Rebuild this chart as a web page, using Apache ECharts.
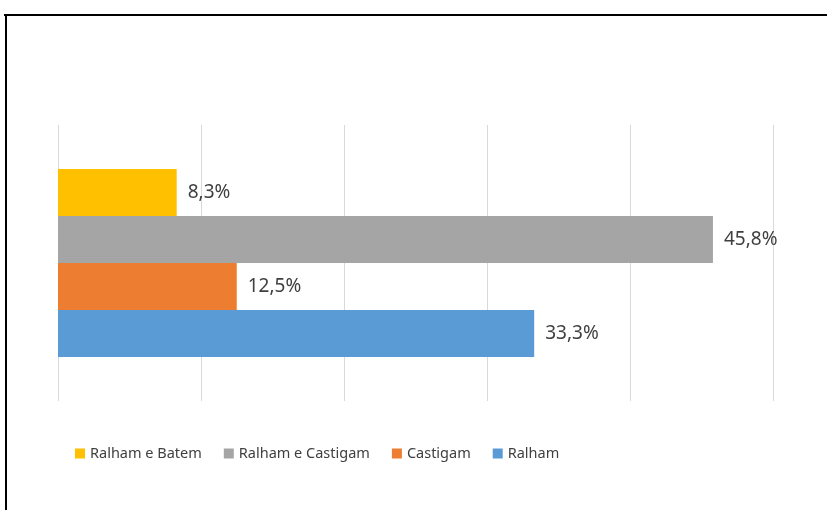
<!DOCTYPE html>
<html>
<head>
<meta charset="utf-8">
<script src="https://cdn.jsdelivr.net/npm/echarts@6/dist/echarts.min.js"></script>
<style>
html,body{margin:0;padding:0;background:#fff;}
#chart{width:827px;height:510px;}
</style>
</head>
<body>
<div id="chart"></div>
<script>
var categories = ['Total'];
var seriesNames = ['Ralham e Batem', 'Ralham e Castigam', 'Castigam', 'Ralham'];
var seriesValues = [[8.3], [45.8], [12.5], [33.3]];
var seriesColors = ['#FFC000', '#A5A5A5', '#ED7D31', '#5B9BD5'];
var axisMin = 0, axisMax = 50, axisInterval = 10;

var chart = echarts.init(document.getElementById('chart'), null, {renderer: 'canvas'});
var series = seriesNames.map(function (name, i) {
  return {
    name: name,
    type: 'bar',
    data: seriesValues[i],
    barWidth: 47,
    barGap: '0%',
    itemStyle: {color: seriesColors[i]},
    label: {
      show: true,
      position: 'right',
      distance: 11,
      color: '#404040',
      fontFamily: 'Noto Sans',
      fontSize: 19,
      formatter: function (p) { return p.value.toFixed(1).replace('.', ',') + '%'; }
    }
  };
});
chart.setOption({
  animation: false,
  backgroundColor: '#fff',
  grid: {left: 58, right: 54, top: 125, bottom: 109},
  xAxis: {
    type: 'value', min: axisMin, max: axisMax, interval: axisInterval,
    axisLine: {show: false}, axisTick: {show: false}, axisLabel: {show: false},
    splitLine: {show: true, lineStyle: {color: '#D9D9D9', width: 1}}
  },
  yAxis: {
    type: 'category', data: categories,
    axisLine: {show: false}, axisTick: {show: false}, axisLabel: {show: false},
    splitLine: {show: false}
  },
  legend: {
    data: seriesNames,
    left: 75, top: 446, padding: 0,
    icon: 'rect', itemWidth: 10, itemHeight: 10, itemGap: 22,
    textStyle: {fontFamily: 'Noto Sans', fontSize: 14.5, color: '#404040'}
  },
  graphic: [
    {type: 'line', shape: {x1: 4, y1: 15, x2: 827, y2: 15}, style: {stroke: '#000', lineWidth: 2}},
    {type: 'line', shape: {x1: 6, y1: 14, x2: 6, y2: 510}, style: {stroke: '#000', lineWidth: 2}}
  ],
  series: series
});
</script>
</body>
</html>
